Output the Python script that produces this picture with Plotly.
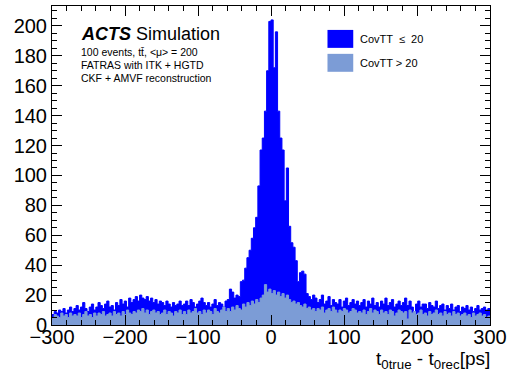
import plotly.graph_objects as go

# bin edges: -300 .. 300 in 3 ps steps (200 bins)
bin_lo = -300
bin_width = 3

# CovTT <= 20 + CovTT > 20 (total, drawn behind)
total_counts = [
    7, 9, 8, 10, 9, 11, 8, 10, 12, 9,
    11, 13, 10, 12, 15, 11, 9, 12, 14, 10,
    12, 15, 13, 11, 14, 16, 12, 13, 10, 15,
    13, 17, 14, 16, 12, 18, 15, 17, 19, 16,
    20, 18, 17, 19, 16, 18, 15, 17, 14, 16,
    15, 13, 16, 14, 12, 15, 13, 14, 16, 13,
    14, 16, 13, 17, 15, 12, 14, 16, 18, 15,
    13, 15, 12, 14, 17, 13, 15, 14, 12, 16,
    17, 24, 22, 18, 20, 19, 29, 30, 38, 45,
    50, 58, 65, 72, 93, 117, 125, 143, 170, 203,
    204, 172, 196, 143, 125, 117, 83, 105, 66, 55,
    52, 43, 29, 35, 36, 34, 21, 19, 17, 20,
    18, 15, 17, 20, 14, 16, 19, 13, 17, 15,
    14, 17, 12, 16, 18, 13, 15, 17, 14, 16,
    13, 15, 17, 12, 16, 14, 18, 13, 15, 12,
    16, 14, 18, 13, 15, 17, 12, 14, 16, 13,
    15, 18, 13, 16, 12, 9, 14, 16, 12, 14,
    14, 11, 15, 13, 12, 16, 11, 13, 14, 10,
    13, 11, 14, 10, 12, 13, 9, 12, 11, 13,
    10, 12, 9, 11, 13, 10, 11, 12, 10, 11,
]

# CovTT > 20
high_counts = [
    5, 7, 6, 5, 8, 6, 7, 5, 8, 6,
    7, 6, 8, 5, 7, 9, 6, 7, 5, 8,
    6, 8, 7, 9, 6, 7, 8, 6, 9, 7,
    8, 6, 9, 7, 10, 8, 7, 9, 8, 10,
    9, 11, 8, 10, 7, 9, 10, 8, 9, 7,
    8, 10, 7, 9, 8, 6, 9, 8, 10, 7,
    9, 7, 10, 8, 9, 11, 8, 9, 7, 10,
    8, 10, 9, 7, 11, 9, 8, 10, 12, 9,
    11, 9, 12, 10, 13, 11, 10, 14, 12, 15,
    13, 16, 14, 17, 15, 18, 20, 27, 22, 24,
    21, 23, 20, 22, 19, 21, 18, 20, 17, 15,
    16, 14, 15, 13, 12, 14, 11, 12, 10, 11,
    9, 11, 10, 12, 8, 10, 11, 9, 12, 10,
    8, 10, 9, 11, 10, 8, 9, 11, 10, 8,
    9, 8, 10, 7, 9, 11, 8, 10, 9, 7,
    10, 8, 9, 7, 10, 9, 6, 8, 10, 9,
    8, 9, 4, 10, 8, 9, 7, 8, 10, 7,
    8, 6, 9, 7, 8, 10, 7, 8, 6, 9,
    7, 8, 6, 9, 7, 8, 6, 7, 8, 6,
    7, 5, 8, 6, 7, 8, 6, 7, 5, 6,
]

x_ticks = [-300, -200, -100, 0, 100, 200, 300]
y_ticks = [0, 20, 40, 60, 80, 100, 120, 140, 160, 180, 200]

legend_labels = ["CovTT  \u2264  20", "CovTT > 20"]
info_lines = [
    "100 events, tt\u0304, &lt;\u03bc&gt; = 200",
    "FATRAS with ITK + HGTD",
    "CKF + AMVF reconstruction",
]

BLUE = "#0000FF"
LIGHT = "#7C9CD6"
FONT = "Liberation Sans"

edges = [bin_lo + bin_width * i for i in range(len(total_counts) + 1)]

fig = go.Figure()
fig.add_trace(go.Scatter(
    x=edges, y=total_counts + [total_counts[-1]],
    mode="lines", line=dict(shape="hv", color=BLUE, width=1),
    fill="tozeroy", fillcolor=BLUE, showlegend=False, hoverinfo="skip"))
fig.add_trace(go.Scatter(
    x=edges, y=high_counts + [high_counts[-1]],
    mode="lines", line=dict(shape="hv", color=LIGHT, width=1),
    fill="tozeroy", fillcolor=LIGHT, showlegend=False, hoverinfo="skip"))

W, H = 512, 381
L, R, T, B = 52, 18, 5, 56
pw, ph = W - L - R, H - T - B

def px(x):
    return (x - L) / pw

def py(y):
    return (H - B - y) / ph

axis_common = dict(
    showline=True, linecolor="black", linewidth=1, mirror="ticks",
    ticks="inside", ticklen=10, tickcolor="black", tickwidth=1,
    showgrid=False, zeroline=False,
    tickfont=dict(family=FONT, size=20, color="black"),
)

fig.update_xaxes(range=[-300, 300], tickvals=x_ticks, ticklabelstandoff=-6,
                 minor=dict(dtick=20, ticks="inside", ticklen=5, tickcolor="black", showgrid=False),
                 **axis_common)
fig.update_yaxes(range=[0, 213.3], tickvals=y_ticks,
                 minor=dict(dtick=5, ticks="inside", ticklen=5, tickcolor="black", showgrid=False),
                 **axis_common)

annotations = []
annotations.append(dict(
    x=px(79), y=py(33), xref="paper", yref="paper", xanchor="left", yanchor="middle",
    text="<b><i>ACTS</i></b> Simulation", showarrow=False,
    font=dict(family=FONT, size=18, color="black")))
for i, line in enumerate(info_lines):
    annotations.append(dict(
        x=px(79), y=py(51 + 13 * i), xref="paper", yref="paper", xanchor="left", yanchor="middle",
        text=line, showarrow=False, font=dict(family=FONT, size=10.5, color="black")))

shapes = []
legend_colors = [BLUE, LIGHT]
legend_y = [38, 62]
for lbl, col, yc in zip(legend_labels, legend_colors, legend_y):
    shapes.append(dict(type="rect", xref="paper", yref="paper",
                       x0=px(330), x1=px(356), y0=py(yc - 9), y1=py(yc + 9),
                       fillcolor=col, line=dict(width=0)))
    annotations.append(dict(
        x=px(361), y=py(yc), xref="paper", yref="paper", xanchor="left", yanchor="middle",
        text=lbl, showarrow=False, font=dict(family=FONT, size=11, color="black")))

annotations.append(dict(
    x=px(496), y=py(360), xref="paper", yref="paper", xanchor="right", yanchor="middle",
    text="t<sub>0true</sub> - t<sub>0rec</sub>[ps]", showarrow=False,
    font=dict(family=FONT, size=19, color="black")))

fig.update_layout(
    width=W, height=H,
    margin=dict(l=L, r=R, t=T, b=B),
    paper_bgcolor="white", plot_bgcolor="white",
    annotations=annotations, shapes=shapes,
    showlegend=False,
)

fig.write_html("out.html", config={"displayModeBar": False},
               post_script="document.body.style.margin='0px';document.body.style.overflow='hidden';")
